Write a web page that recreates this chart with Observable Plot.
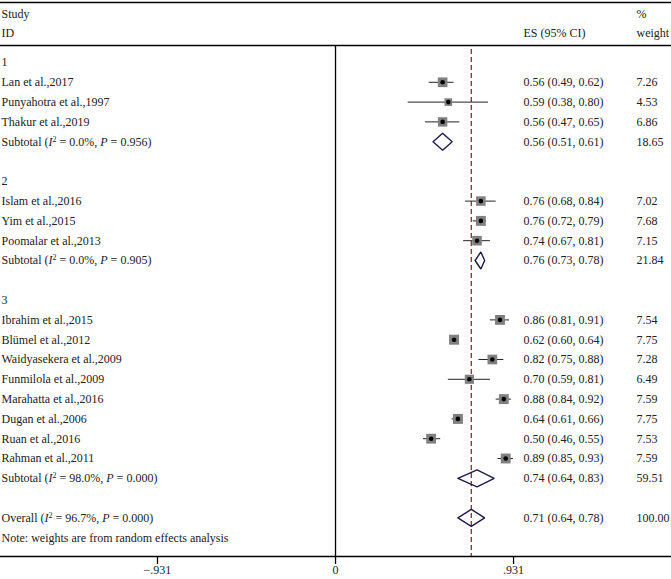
<!DOCTYPE html>
<html><head><meta charset="utf-8">
<script src="https://cdn.jsdelivr.net/npm/d3@7"></script>
<script src="https://cdn.jsdelivr.net/npm/@observablehq/plot@0.6"></script>
<style>body{margin:0;background:#fff} svg{display:block}</style>
</head><body><div id="chart"></div>
<script>
// ---- data ----
const groupLabels = ["1", "2", "3"];
const studyNames = ["Lan et al.,2017", "Punyahotra et al.,1997", "Thakur et al.,2019",
  "Islam et al.,2016", "Yim et al.,2015", "Poomalar et al.,2013",
  "Ibrahim et al.,2015", "Blümel et al.,2012", "Waidyasekera et al.,2009", "Funmilola et al.,2009",
  "Marahatta et al.,2016", "Dugan et al.,2006", "Ruan et al.,2016", "Rahman et al.,2011"];
const studyGroup = [1, 1, 1, 2, 2, 2, 3, 3, 3, 3, 3, 3, 3, 3];
const studyES = [0.56, 0.59, 0.56, 0.76, 0.76, 0.74, 0.86, 0.62, 0.82, 0.70, 0.88, 0.64, 0.50, 0.89];
const studyLo = [0.49, 0.38, 0.47, 0.68, 0.72, 0.67, 0.81, 0.60, 0.75, 0.59, 0.84, 0.61, 0.46, 0.85];
const studyHi = [0.62, 0.80, 0.65, 0.84, 0.79, 0.81, 0.91, 0.64, 0.88, 0.81, 0.92, 0.66, 0.55, 0.93];
const studyWeight = [7.26, 4.53, 6.86, 7.02, 7.68, 7.15, 7.54, 7.75, 7.28, 6.49, 7.59, 7.75, 7.53, 7.59];
const subtotalI2 = ["0.0%", "0.0%", "98.0%"];
const subtotalP = ["0.956", "0.905", "0.000"];
const subtotalES = [0.56, 0.76, 0.74];
const subtotalLo = [0.51, 0.73, 0.64];
const subtotalHi = [0.61, 0.78, 0.83];
const subtotalWeight = [18.65, 21.84, 59.51];
const overallI2 = "96.7%";
const overallP = "0.000";
const overallES = 0.71;
const overallLo = 0.64;
const overallHi = 0.78;
const overallWeight = 100.00;
const xTicks = [-0.931, 0, 0.931];
const tickLabels = ["\u2212.931", "0", ".931"];
const noteText = "Note: weights are from random effects analysis";

// ---- build table rows ----
const fmtCI = (e, l, h) => `${e.toFixed(2)} (${l.toFixed(2)}, ${h.toFixed(2)})`;
const labelRows = [], studyRows = [], summaryRows = [];
let row = 0;
groupLabels.forEach((g, gi) => {
  labelRows.push({row, label: g});
  row++;
  studyNames.forEach((n, i) => {
    if (studyGroup[i] !== gi + 1) return;
    const d = {row, label: n, es: studyES[i], lo: studyLo[i], hi: studyHi[i], w: studyWeight[i]};
    studyRows.push(d); labelRows.push(d);
    row++;
  });
  const s = {row, label: `Subtotal (I^2 = ${subtotalI2[gi]}, P = ${subtotalP[gi]})`,
    es: subtotalES[gi], lo: subtotalLo[gi], hi: subtotalHi[gi], w: subtotalWeight[gi], id: "s" + gi};
  summaryRows.push(s); labelRows.push(s);
  row += 2;
});
const ov = {row, label: `Overall (I^2 = ${overallI2}, P = ${overallP})`,
  es: overallES, lo: overallLo, hi: overallHi, w: overallWeight, id: "ov"};
summaryRows.push(ov); labelRows.push(ov);
row++;
const noteRow = row;
labelRows.push({row: noteRow, label: noteText});
const axisRow = noteRow + 0.95;

const numRows = [...studyRows, ...summaryRows];
const dh = 0.43;
const diamondPts = summaryRows.flatMap(d => [
  {x: d.lo, y: d.row, id: d.id}, {x: d.es, y: d.row - dh, id: d.id},
  {x: d.hi, y: d.row, id: d.id}, {x: d.es, y: d.row + dh, id: d.id},
  {x: d.lo, y: d.row, id: d.id}]);

const ink = "#222";
const chart = Plot.plot({
  width: 671, height: 579,
  marginTop: 0, marginLeft: 0, marginRight: 0, marginBottom: 23,
  x: {domain: [-1.752, 1.757], range: [0, 671], label: null},
  y: {domain: [-3.131, 26.111], range: [0, 579], axis: null},
  r: {type: "sqrt", domain: [0, 7.75], range: [0, 5.64]},
  style: {fontFamily: "'Liberation Serif', 'DejaVu Serif', serif", fontSize: "12px", background: "white", color: ink},
  marks: [
    // frame rules
    Plot.ruleY([-3.03, -0.86], {stroke: "black", strokeWidth: 1.5}),
    Plot.ruleY([axisRow], {stroke: "black", strokeWidth: 1.3}),
    Plot.ruleX([0], {y1: -0.86, y2: axisRow, stroke: "black", strokeWidth: 1.3}),
    // overall dashed line
    Plot.ruleX([overallES], {y1: -0.65, y2: axisRow, stroke: "#8b1a1a", strokeWidth: 1.2, strokeDasharray: "5,3"}),
    // CI lines
    Plot.ruleY(studyRows, {y: "row", x1: "lo", x2: "hi", stroke: ink, strokeWidth: 1}),
    // weight squares
    Plot.dot(studyRows, {x: "es", y: "row", r: "w", symbol: "square", fill: "#808080", stroke: "none"}),
    Plot.dot(studyRows, {x: "es", y: "row", r: 2.3, fill: "black", stroke: "none"}),
    // diamonds
    Plot.line(diamondPts, {x: "x", y: "y", z: "id", stroke: "#1c1c4c", strokeWidth: 1.4, strokeLinejoin: "miter", curve: "linear"}),
    // headers
    Plot.text(["Study"], {y: -2.42, frameAnchor: "left", textAnchor: "start", dx: 1, fill: ink, fontSize: 12}),
    Plot.text(["ID"], {y: -1.46, frameAnchor: "left", textAnchor: "start", dx: 1, fill: ink, fontSize: 12}),
    Plot.text(["ES (95% CI)"], {y: -1.46, frameAnchor: "right", textAnchor: "start", dx: -148, fill: ink, fontSize: 12}),
    Plot.text(["%"], {y: -2.42, frameAnchor: "right", textAnchor: "start", dx: -35, fill: ink, fontSize: 12}),
    Plot.text(["weight"], {y: -1.46, frameAnchor: "right", textAnchor: "start", dx: -35, fill: ink, fontSize: 12}),
    // labels
    Plot.text(labelRows, {y: "row", text: "label", frameAnchor: "left", textAnchor: "start", dx: 1, fill: ink, fontSize: 12}),
    Plot.text(numRows, {y: "row", text: d => fmtCI(d.es, d.lo, d.hi), frameAnchor: "right", textAnchor: "start", dx: -148, fill: ink, fontSize: 12}),
    Plot.text(numRows, {y: "row", text: d => d.w.toFixed(2), frameAnchor: "right", textAnchor: "start", dx: -35, fill: ink, fontSize: 12}),
    // axis
    Plot.axisX({ticks: xTicks, tickFormat: d => tickLabels[xTicks.indexOf(d)], tickSize: 8, tickPadding: 1,
      label: null, stroke: "black", strokeWidth: 1.3, fill: ink, fontSize: 12})
  ]
});
document.getElementById("chart").append(chart);

// rich text: italic I, superscript 2, italic P
d3.select(chart).selectAll("text").each(function() {
  const t = this.textContent;
  const m = t.match(/^(Subtotal|Overall) \(I\^2 = (.*), P = (.*)\)$/);
  if (!m) return;
  const sel = d3.select(this);
  sel.text(null);
  sel.append("tspan").text(m[1] + " (");
  sel.append("tspan").attr("font-style", "italic").text("I");
  sel.append("tspan").attr("font-size", "8px").attr("dy", "-4").text("2");
  sel.append("tspan").attr("dy", "4").text(" = " + m[2] + ", ");
  sel.append("tspan").attr("font-style", "italic").text("P");
  sel.append("tspan").text(" = " + m[3] + ")");
});
</script>
</body></html>
